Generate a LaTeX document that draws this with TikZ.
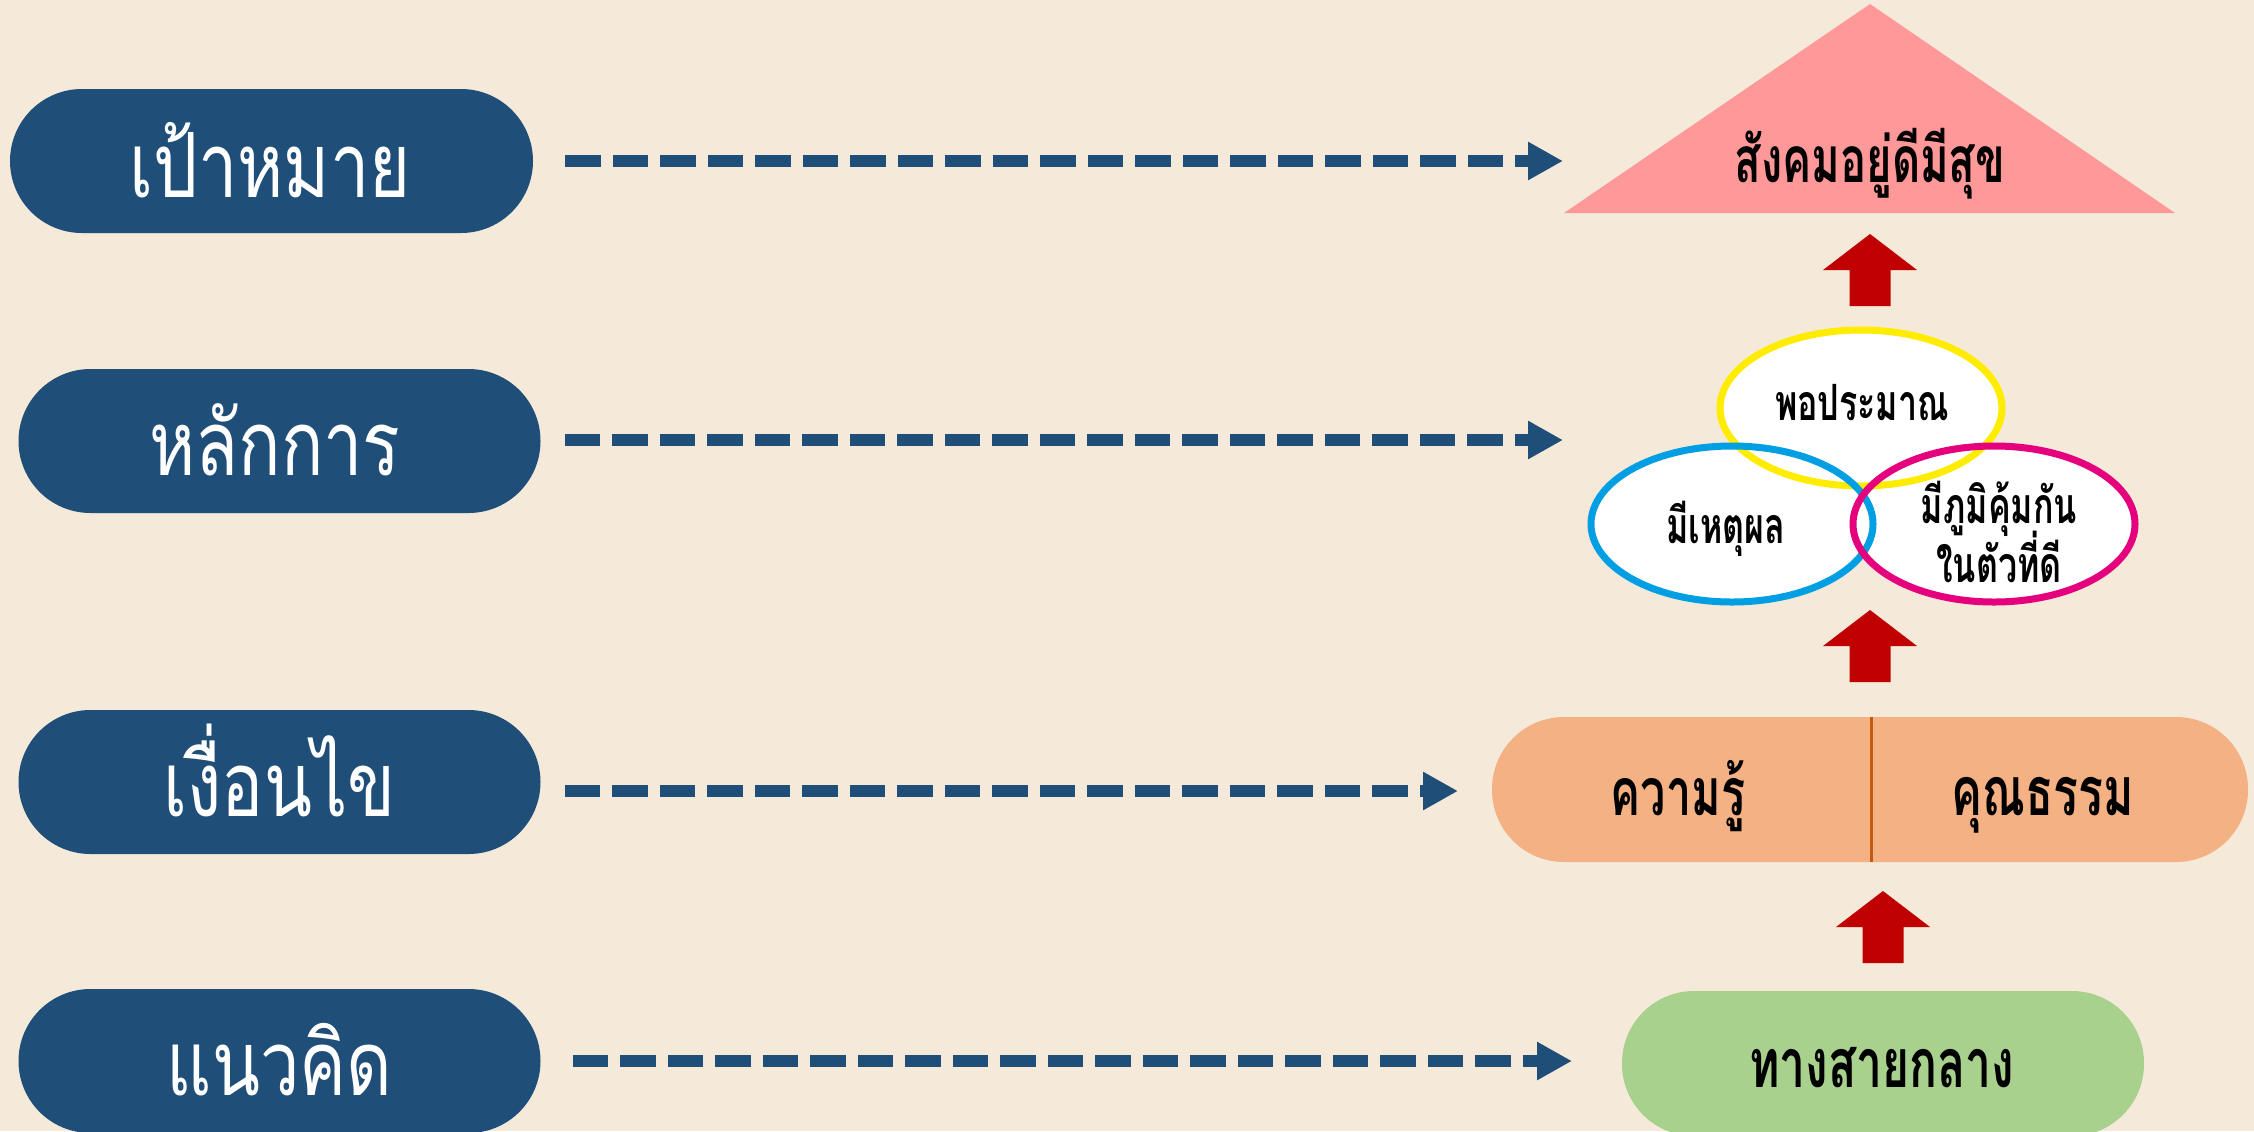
\documentclass[tikz,border=0pt]{standalone}
\usepackage{fontspec}
\newfontfamily\thaifont[Script=Thai,FakeStretch=0.78]{Loma}
\newfontfamily\thaicond[Script=Thai,FakeStretch=0.68]{Loma}
\usetikzlibrary{arrows.meta,shapes.geometric}
\definecolor{bg}{HTML}{F5EAD9}
\definecolor{navy}{HTML}{1F4E79}
\definecolor{blockred}{HTML}{C00000}
\definecolor{tripink}{HTML}{FF9999}
\definecolor{peach}{HTML}{F4B183}
\definecolor{rust}{HTML}{C55A11}
\definecolor{leaf}{HTML}{A9D18E}
\definecolor{ringyellow}{HTML}{FFEC00}
\definecolor{ringblue}{HTML}{009FE3}
\definecolor{ringmag}{HTML}{E5007D}
\begin{document}
\begin{tikzpicture}[x=0.5pt,y=-0.5pt,
  levelpill/.style={fill=navy, rounded corners=36pt, minimum height=72pt, inner sep=0pt},
  leveltext/.style={text=white, font=\thaifont\fontsize{45}{50}\selectfont, anchor=base, inner sep=0pt},
  dasharrow/.style={navy, line width=6pt, dash pattern=on 17.75pt off 6pt, -{Triangle[length=17.5pt,width=18pt]}},
  darktext/.style={text=black, font=\thaicond\bfseries\fontsize{#1}{#1}\selectfont, anchor=base, inner sep=0pt},
  darktext/.default=30,
  ringfill/.style={ellipse, fill=white, minimum width=141pt, minimum height=78pt, inner sep=0pt},
  ringline/.style={line width=3.5pt},
  blockup/.pic={\fill[blockred] (0,0) -- (47,36) -- (20.5,36) -- (20.5,72) -- (-20.5,72) -- (-20.5,36) -- (-47,36) -- cycle;}
]
\fill[bg] (0,0) rectangle (2254,1131);
\useasboundingbox (0,0) rectangle (2254,1131);

% left level pills
\node[levelpill, minimum width=261.5pt] (p1) at (271.5,161) {};
\node[levelpill, minimum width=261pt] (p2) at (279.5,441) {};
\node[levelpill, minimum width=261pt] (p3) at (279.5,782) {};
\node[levelpill, minimum width=261pt] (p4) at (279.5,1061) {};
\node[leveltext] (t1) at (270,197) {เป้าหมาย};
\node[leveltext] (t2) at (275,475) {หลักการ};
\node[leveltext] (t3) at (279.5,816) {เงื่อนไข};
\node[leveltext] (t4) at (279.5,1095) {แนวคิด};

% goal triangle
\coordinate (apex) at (1870,4);
\coordinate (bl) at (1564,213);
\coordinate (br) at (2175,213);
\fill[tripink] (apex) -- (br) -- (bl) -- cycle;
\node[darktext=32] (goal) at (1870,182) {สังคมอยู่ดีมีสุข};

% three principles
\node[ringfill] (ey) at (1861,408) {};
\node[ringfill] (eb) at (1732,524) {};
\node[ringfill] (em) at (1994,524) {};
\draw[ringline, ringyellow] (ey.center) ellipse [x radius=70.5pt, y radius=39pt];
\draw[ringline, ringblue] (eb.center) ellipse [x radius=70.5pt, y radius=39pt];
\draw[ringline, ringmag] (em.center) ellipse [x radius=70.5pt, y radius=39pt];
\node[darktext=25] (ty) at (1862,420) {พอประมาณ};
\node[darktext=25] (tb) at (1726,543) {มีเหตุผล};
\node[darktext=25] (tm1) at (1999,523) {มีภูมิคุ้มกัน};
\node[darktext=25] (tm2) at (1999,582) {ในตัวที่ดี};

% conditions pill
\node[fill=peach, rounded corners=36pt, minimum width=378pt, minimum height=72.5pt, inner sep=0pt] (cond) at (1870,789.5) {};
\draw[rust, line width=1.5pt] ([xshift=0.5pt]cond.north) -- ([xshift=0.5pt]cond.south);
\node[darktext=33] (know) at (1678,815) {ความรู้};
\node[darktext=34] (moral) at (2043,815) {คุณธรรม};

% middle way pill
\node[fill=leaf, rounded corners=36pt, minimum width=261pt, minimum height=72.5pt, inner sep=0pt] (mid) at (1883,1063.5) {};
\node[darktext=34] (midt) at (1882,1087) {ทางสายกลาง};

% block arrows
\pic at (1870,234) {blockup};
\pic at (1870,610) {blockup};
\pic at (1883,891) {blockup};

% dashed connectors
\coordinate (e1) at (1563,161);
\coordinate (e2) at (1563,440);
\coordinate (e3) at (1458,791);
\coordinate (e4) at (1572,1061);
\draw[dasharrow, shorten <=16pt] (p1.east |- e1) -- (e1);
\draw[dasharrow, shorten <=12pt] (p2.east |- e2) -- (e2);
\draw[dasharrow, shorten <=12pt] (p3.east |- e3) -- (e3);
\draw[dasharrow, shorten <=16pt] (p4.east |- e4) -- (e4);
\end{tikzpicture}
\end{document}
